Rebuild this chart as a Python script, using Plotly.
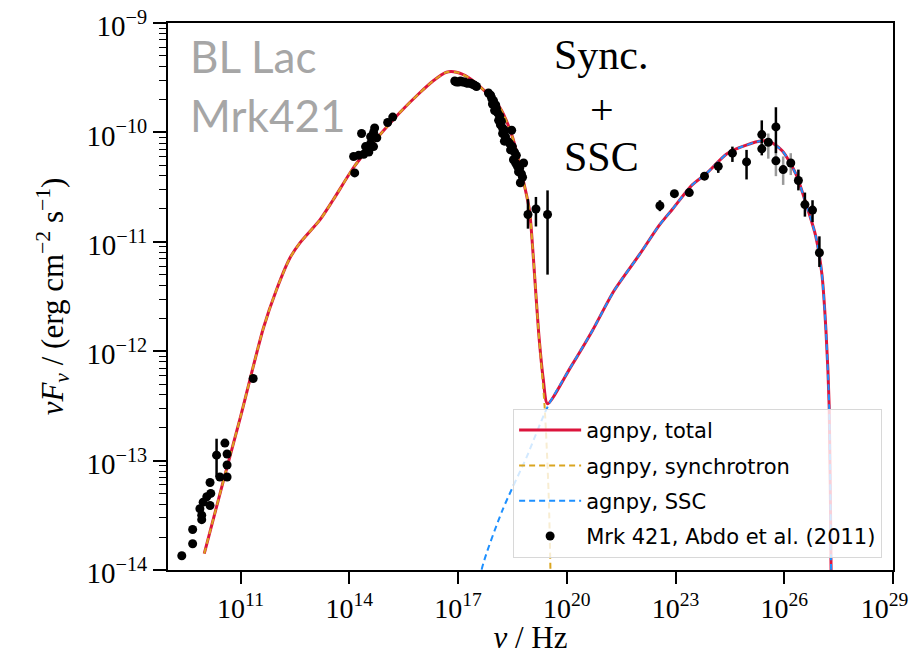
import plotly.graph_objects as go

# ---------------- model curves (log10 nu [Hz], log10 nuFnu [erg cm-2 s-1]) ----------------
sync_log_nu = [10.00, 10.50, 11.00, 11.63, 11.99, 12.36, 12.64, 13.19, 13.55, 14.10, 14.47, 14.93,
               15.39, 15.94, 16.31, 16.68, 16.96, 17.30, 17.60, 18.15, 18.50, 18.78, 18.97, 19.08,
               19.22, 19.39, 19.50, 19.55, 19.58]
sync_log_flux = [-13.85, -13.22, -12.60, -11.79, -11.44, -11.15, -11.01, -10.80, -10.62, -10.33, -10.17, -9.99,
                 -9.82, -9.64, -9.53, -9.45, -9.45, -9.50, -9.58, -9.77, -10.04, -10.41, -10.71, -11.15,
                 -11.81, -12.51, -13.30, -14.00, -14.80]

ssc_log_nu = [17.50, 17.65, 18.23, 18.89, 19.47, 20.10, 20.71, 21.30, 22.00, 22.55, 22.92, 23.46, 23.84,
              24.40, 24.76, 25.31, 25.58, 25.95, 26.32, 26.59, 26.87, 27.04, 27.15, 27.24, 27.29, 27.31]
ssc_log_flux = [-14.45, -14.00, -13.45, -12.97, -12.51, -12.15, -11.81, -11.45, -11.12, -10.85, -10.70, -10.48, -10.38,
                -10.20, -10.14, -10.08, -10.08, -10.17, -10.38, -10.64, -10.95, -11.30, -11.81, -12.51, -13.94, -14.50]

total_log_nu = [10.00, 10.50, 11.00, 11.63, 11.99, 12.36, 12.64, 13.19, 13.55, 14.10, 14.47, 14.93,
                15.39, 15.94, 16.31, 16.68, 16.96, 17.30, 17.60, 18.15, 18.50, 18.78, 18.97, 19.08,
                19.22, 19.35, 19.47, 20.10, 20.71, 21.30, 22.00, 22.55, 22.92, 23.46, 23.84,
                24.40, 24.76, 25.31, 25.58, 25.95, 26.32, 26.59, 26.87, 27.04, 27.15, 27.24, 27.29, 27.31]
total_log_flux = [-13.85, -13.22, -12.60, -11.79, -11.44, -11.15, -11.01, -10.80, -10.62, -10.33, -10.17, -9.99,
                  -9.82, -9.64, -9.53, -9.45, -9.45, -9.50, -9.58, -9.77, -10.04, -10.41, -10.71, -11.15,
                  -11.81, -12.25, -12.48, -12.15, -11.81, -11.45, -11.12, -10.85, -10.70, -10.48, -10.38,
                  -10.20, -10.14, -10.08, -10.08, -10.17, -10.38, -10.64, -10.95, -11.30, -11.81, -12.51, -13.94, -14.50]

# ---------------- data points (Mrk 421, Abdo et al. 2011) ----------------
radio_log_nu = [9.38, 9.68, 9.68, 9.93, 9.93, 9.88, 9.97, 10.07, 10.18, 10.16, 10.16, 10.43, 10.57,
                10.63, 10.63, 10.63, 11.35]
radio_log_flux = [-13.87, -13.76, -13.63, -13.54, -13.50, -13.44, -13.38, -13.33, -13.30, -13.41, -13.20,
                  -13.15, -12.84, -12.94, -13.04, -13.15, -12.25]

optical_log_nu = [14.15, 14.12, 14.26, 14.40, 14.54, 14.45, 14.59, 14.59, 14.67, 14.70, 14.76, 14.34,
                  15.06, 15.20, 14.67]
optical_log_flux = [-10.37, -10.22, -10.21, -10.20, -10.18, -10.13, -10.10, -10.04, -10.00, -9.96, -10.05,
                    -10.01, -9.91, -9.86, -10.13]

xray_log_nu = [16.91, 16.96, 17.02, 17.07, 17.13, 17.18, 17.24, 17.29, 17.35, 17.40, 17.46, 17.51,
               17.84, 17.90, 17.93, 17.98, 17.95, 18.04, 18.06, 18.01, 18.09, 18.15, 18.12, 18.20,
               18.17, 18.23, 18.28, 18.23, 18.31, 18.28, 18.37, 18.42, 18.48, 18.50, 18.45, 18.56,
               18.61, 18.53, 18.59, 18.64, 18.70, 18.67, 18.75, 18.78, 18.72, 18.81]
xray_log_flux = [-9.53, -9.54, -9.54, -9.53, -9.54, -9.54, -9.55, -9.55, -9.55, -9.56, -9.57, -9.58,
                 -9.64, -9.66, -9.69, -9.71, -9.74, -9.75, -9.78, -9.80, -9.82, -9.85, -9.89, -9.90,
                 -9.93, -9.96, -9.98, -10.01, -10.04, -10.08, -10.08, -10.10, -9.98, -10.13, -10.16, -10.18,
                 -10.21, -10.25, -10.28, -10.31, -10.33, -10.36, -10.38, -10.41, -10.46, -10.28]

# points with (black) error bars: value, upper end, lower end
err_log_nu = [10.34, 18.93, 19.15, 19.47, 22.57, 22.97, 23.38, 23.80, 24.18, 24.57, 24.96, 25.38,
              25.38, 25.77, 26.39, 26.57, 26.78, 26.97]
err_log_flux = [-12.95, -10.75, -10.70, -10.75, -10.67, -10.56, -10.55, -10.40, -10.31, -10.19, -10.27, -10.02,
                -10.15, -9.95, -10.44, -10.66, -10.71, -11.10]
err_log_hi = [-12.80, -10.61, -10.59, -10.53, -10.62, -10.53, -10.53, -10.38, -10.27, -10.13, -10.16, -9.89,
              -10.10, -9.77, -10.34, -10.55, -10.62, -10.95]
err_log_lo = [-13.15, -10.88, -10.86, -11.30, -10.72, -10.59, -10.57, -10.42, -10.37, -10.27, -10.43, -10.10,
              -10.21, -10.19, -10.53, -10.77, -10.82, -11.23]

# points with grey error bars
grey_log_nu = [25.56, 25.77, 25.97, 26.18]
grey_log_flux = [-10.09, -10.26, -10.34, -10.28]
grey_log_hi = [-10.01, -10.10, -10.22, -10.19]
grey_log_lo = [-10.24, -10.40, -10.48, -10.39]

# axis ticks
x_tick_exp = [11, 14, 17, 20, 23, 26, 29]
y_tick_exp = [-14, -13, -12, -11, -10, -9]


def lin(v):
    return [10.0 ** a for a in v]


SERIF = "Liberation Serif"
SANS = "DejaVu Sans"
SMOOTH = 0.7

fig = go.Figure()

fig.add_trace(go.Scatter(x=lin(total_log_nu), y=lin(total_log_flux), mode="lines",
                         line=dict(color="crimson", width=3, shape="spline", smoothing=SMOOTH),
                         name="agnpy, total", legendgroup="a"))
fig.add_trace(go.Scatter(x=lin(sync_log_nu), y=lin(sync_log_flux), mode="lines",
                         line=dict(color="goldenrod", width=2, dash="6px,4px",
                                   shape="spline", smoothing=SMOOTH),
                         name="agnpy, synchrotron", legendgroup="b"))
fig.add_trace(go.Scatter(x=lin(ssc_log_nu), y=lin(ssc_log_flux), mode="lines",
                         line=dict(color="dodgerblue", width=2, dash="6px,4px",
                                   shape="spline", smoothing=SMOOTH),
                         name="agnpy, SSC", legendgroup="c"))

# grey error bars (drawn behind markers)
gy = lin(grey_log_flux)
fig.add_trace(go.Scatter(x=lin(grey_log_nu), y=gy, mode="markers",
                         marker=dict(color="black", size=9),
                         error_y=dict(type="data", symmetric=False,
                                      array=[10.0 ** h - y for h, y in zip(grey_log_hi, gy)],
                                      arrayminus=[y - 10.0 ** l for l, y in zip(grey_log_lo, gy)],
                                      color="rgba(120,120,120,0.75)", thickness=2.5, width=0),
                         showlegend=False, hoverinfo="skip"))

# all black data
all_nu = radio_log_nu + optical_log_nu + xray_log_nu + err_log_nu
all_fl = radio_log_flux + optical_log_flux + xray_log_flux + err_log_flux
n0 = len(radio_log_nu) + len(optical_log_nu) + len(xray_log_nu)
ys = lin(all_fl)
up = [0.0] * n0 + [10.0 ** h - 10.0 ** y for h, y in zip(err_log_hi, err_log_flux)]
dn = [0.0] * n0 + [10.0 ** y - 10.0 ** l for l, y in zip(err_log_lo, err_log_flux)]
fig.add_trace(go.Scatter(x=lin(all_nu), y=ys, mode="markers",
                         marker=dict(color="black", size=9),
                         error_y=dict(type="data", symmetric=False, array=up, arrayminus=dn,
                                      color="black", thickness=2.5, width=0),
                         name="Mrk 421, Abdo et al. (2011)", legendgroup="d"))

minor_y = [m * 10.0 ** e for e in range(-14, -9) for m in range(2, 10)]

x_ticktext = ["10<sup>%d</sup>" % e for e in x_tick_exp]
x_ticktext[-1] = x_ticktext[-1] + "\u2009\u2009\u2009"  # keep last label inside the page

fig.update_layout(
    width=914, height=647,
    margin=dict(l=160, r=29, t=15, b=85, autoexpand=False),
    paper_bgcolor="white", plot_bgcolor="white",
    showlegend=True,
    legend=dict(x=0.985, y=0.022, xanchor="right", yanchor="bottom",
                bgcolor="rgba(255,255,255,0.8)", bordercolor="#d8d8d8", borderwidth=1,
                font=dict(family=SANS, size=21, color="black"),
                itemwidth=62, tracegroupgap=5),
    xaxis=dict(type="log", range=[9, 29], showgrid=False, zeroline=False, automargin=False,
               showline=True, linecolor="black", linewidth=2, mirror=True,
               ticks="outside", ticklen=12, tickwidth=2, tickcolor="black",
               ticklabeloverflow="allow",
               tickvals=[10.0 ** e for e in x_tick_exp],
               ticktext=x_ticktext,
               tickfont=dict(family=SERIF, size=28, color="black"),
               title=dict(text="<i>ν</i> / Hz", font=dict(family=SERIF, size=31, color="black"),
                          standoff=10)),
    yaxis=dict(type="log", range=[-14, -9], showgrid=False, zeroline=False, automargin=False,
               showline=True, linecolor="black", linewidth=2, mirror=True,
               ticks="outside", ticklen=13, tickwidth=2, tickcolor="black",
               ticklabeloverflow="allow", ticklabelshift=3,
               tickvals=[10.0 ** e for e in y_tick_exp],
               ticktext=["10<sup>\u2212%d</sup>" % (-e) for e in y_tick_exp],
               tickfont=dict(family=SERIF, size=29, color="black"),
               minor=dict(tickvals=minor_y, ticks="outside", ticklen=7, tickwidth=1.3,
                          tickcolor="black", showgrid=False),
               title=dict(text="<i>νF<sub>ν</sub></i> / (erg cm<sup>\u22122</sup> s<sup>\u22121</sup>)",
                          font=dict(family=SERIF, size=31, color="black"), standoff=14)),
)

ann = [
    dict(text="BL Lac", x=0.028, y=0.9397, xanchor="left", yanchor="middle",
         font=dict(family="Lato", size=44, color="#a6a6a6")),
    dict(text="Mrk421", x=0.028, y=0.832, xanchor="left", yanchor="middle",
         font=dict(family="Lato", size=44, color="#a6a6a6")),
    dict(text="Sync.", x=0.5986, y=0.9415, xanchor="center", yanchor="middle",
         font=dict(family=SERIF, size=42, color="black")),
    dict(text="+", x=0.5986, y=0.841, xanchor="center", yanchor="middle",
         font=dict(family=SERIF, size=42, color="black")),
    dict(text="SSC", x=0.5986, y=0.755, xanchor="center", yanchor="middle",
         font=dict(family=SERIF, size=42, color="black")),
]
for a in ann:
    fig.add_annotation(xref="paper", yref="paper", showarrow=False, **a)

fig.write_html("out.html")
